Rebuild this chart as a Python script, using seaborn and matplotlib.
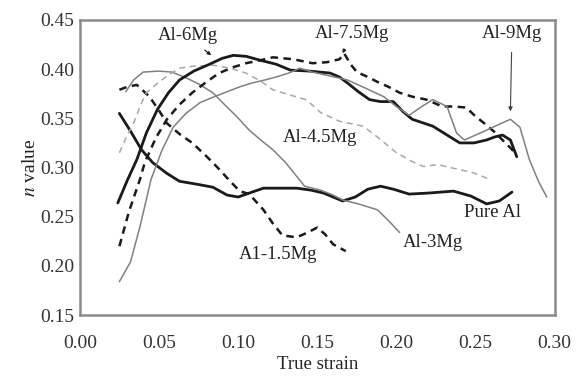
import matplotlib
matplotlib.use("Agg")
from matplotlib import pyplot as plt
import seaborn as sns
import pandas as pd

# strain / n value curves
pure_x = [0.025, 0.032, 0.039, 0.046, 0.055, 0.063, 0.074, 0.084, 0.093, 0.100, 0.107, 0.116, 0.128,
          0.137, 0.146, 0.154, 0.160, 0.166, 0.174, 0.182, 0.190, 0.198, 0.208, 0.220, 0.236, 0.247,
          0.257, 0.265, 0.273]
pure_y = [0.355, 0.337, 0.318, 0.305, 0.294, 0.286, 0.283, 0.280, 0.272, 0.270, 0.274, 0.279, 0.279,
          0.279, 0.277, 0.274, 0.270, 0.266, 0.270, 0.278, 0.281, 0.278, 0.273, 0.274, 0.276, 0.271,
          0.263, 0.266, 0.275]

mg15_x = [0.025, 0.030, 0.036, 0.044, 0.050, 0.055, 0.063, 0.071, 0.079, 0.087, 0.095, 0.101, 0.107,
          0.116, 0.122, 0.128, 0.137, 0.144, 0.150, 0.155, 0.160, 0.168]
mg15_y = [0.379, 0.382, 0.384, 0.372, 0.358, 0.345, 0.334, 0.325, 0.313, 0.300, 0.286, 0.276, 0.273,
          0.257, 0.243, 0.231, 0.229, 0.234, 0.239, 0.232, 0.222, 0.215]

mg3_x = [0.029, 0.034, 0.040, 0.050, 0.058, 0.066, 0.075, 0.084, 0.092, 0.099, 0.107, 0.115, 0.122,
         0.130, 0.137, 0.142, 0.152, 0.160, 0.166, 0.176, 0.188, 0.195, 0.202]
mg3_y = [0.377, 0.389, 0.397, 0.398, 0.397, 0.392, 0.385, 0.376, 0.363, 0.352, 0.338, 0.327, 0.318,
         0.305, 0.291, 0.281, 0.277, 0.272, 0.267, 0.263, 0.257, 0.246, 0.234]

mg45_x = [0.025, 0.030, 0.034, 0.038, 0.042, 0.050, 0.057, 0.063, 0.072, 0.084, 0.095, 0.105, 0.114,
          0.122, 0.132, 0.143, 0.152, 0.164, 0.179, 0.188, 0.200, 0.210, 0.217, 0.226, 0.234, 0.248,
          0.259]
mg45_y = [0.315, 0.333, 0.345, 0.362, 0.376, 0.387, 0.395, 0.401, 0.403, 0.404, 0.401, 0.396, 0.388,
          0.379, 0.374, 0.369, 0.356, 0.347, 0.342, 0.331, 0.315, 0.306, 0.301, 0.303, 0.300, 0.295,
          0.288]

mg6_x = [0.024, 0.030, 0.036, 0.042, 0.049, 0.056, 0.063, 0.072, 0.082, 0.090, 0.097, 0.105, 0.114,
         0.124, 0.133, 0.145, 0.158, 0.164, 0.169, 0.176, 0.183, 0.190, 0.198, 0.204, 0.210, 0.223,
         0.232, 0.240, 0.249, 0.257, 0.262, 0.267, 0.272, 0.276]
mg6_y = [0.264, 0.287, 0.308, 0.335, 0.359, 0.376, 0.389, 0.398, 0.405, 0.411, 0.414, 0.413, 0.409,
         0.405, 0.399, 0.398, 0.396, 0.392, 0.386, 0.377, 0.369, 0.367, 0.367, 0.357, 0.349, 0.342,
         0.333, 0.325, 0.325, 0.328, 0.331, 0.333, 0.328, 0.311]

mg75_x = [0.025, 0.031, 0.038, 0.041, 0.048, 0.055, 0.063, 0.071, 0.080, 0.088, 0.097, 0.105, 0.114,
          0.122, 0.135, 0.147, 0.156, 0.164, 0.167, 0.171, 0.175, 0.182, 0.188, 0.195, 0.202, 0.210,
          0.219, 0.229, 0.236, 0.244, 0.250, 0.257, 0.262, 0.267, 0.272, 0.276]
mg75_y = [0.220, 0.255, 0.288, 0.305, 0.330, 0.349, 0.364, 0.376, 0.387, 0.396, 0.402, 0.406, 0.409,
          0.412, 0.410, 0.406, 0.407, 0.410, 0.416, 0.405, 0.397, 0.392, 0.387, 0.382, 0.376, 0.372,
          0.369, 0.362, 0.362, 0.361, 0.352, 0.343, 0.336, 0.328, 0.320, 0.313]

mg9_x = [0.025, 0.032, 0.038, 0.045, 0.052, 0.059, 0.067, 0.076, 0.085, 0.093, 0.101, 0.109, 0.117,
         0.124, 0.132, 0.139, 0.147, 0.158, 0.169, 0.180, 0.192, 0.200, 0.208, 0.216, 0.223, 0.232,
         0.238, 0.243, 0.250, 0.257, 0.265, 0.272, 0.278, 0.284, 0.290, 0.295]
mg9_y = [0.184, 0.204, 0.240, 0.288, 0.318, 0.341, 0.355, 0.366, 0.372, 0.377, 0.382, 0.386, 0.389,
         0.392, 0.396, 0.401, 0.397, 0.393, 0.389, 0.381, 0.372, 0.362, 0.353, 0.362, 0.369, 0.362,
         0.335, 0.328, 0.333, 0.338, 0.344, 0.349, 0.341, 0.308, 0.285, 0.270]

x_ticks = [0.00, 0.05, 0.10, 0.15, 0.20, 0.25, 0.30]
y_ticks = [0.15, 0.20, 0.25, 0.30, 0.35, 0.40, 0.45]

sns.set_style("white")
plt.rcParams['font.family'] = ['Liberation Serif', 'DejaVu Serif']
plt.rcParams['mathtext.fontset'] = 'stix'

fig = plt.figure(figsize=(5.87, 3.76), dpi=100)
ax = fig.add_axes([0.136, 0.162, 0.809, 0.785])

# (x, y, colour, width, dash pattern)
curves = [
    (pure_x, pure_y, '#1a1a1a', 2.0, None),
    (mg15_x, mg15_y, '#1a1a1a', 1.8, (3.0, 2.2)),
    (mg3_x, mg3_y, '#808080', 1.1, None),
    (mg45_x, mg45_y, '#a8a8a8', 1.1, (4.0, 3.0)),
    (mg6_x, mg6_y, '#1a1a1a', 2.0, None),
    (mg75_x, mg75_y, '#1a1a1a', 1.8, (3.0, 2.2)),
    (mg9_x, mg9_y, '#808080', 1.1, None),
]
for xs, ys, col, lw, dash in curves:
    df = pd.DataFrame({'strain': xs, 'n': ys})
    line_kws = dict(color=col, linewidth=lw)
    if dash is not None:
        line_kws['linestyle'] = (0, dash)
    sns.lineplot(data=df, x='strain', y='n', ax=ax, sort=False, **line_kws)

txt = dict(fontsize=13.5, color='#222222', ha='center', va='center')
ax.annotate('Al-6Mg', xy=(0.083, 0.414), xytext=(0.068, 0.434),
            arrowprops=dict(arrowstyle='-|>', color='#222222', lw=0.9,
                            mutation_scale=5, shrinkA=3, shrinkB=0), **txt)
ax.annotate('Al-7.5Mg', xy=(0.166, 0.416), xytext=(0.172, 0.436),
            arrowprops=dict(arrowstyle='-|>', color='#222222', lw=0.9,
                            mutation_scale=5, shrinkA=3, shrinkB=0), **txt)
ax.annotate('Al-9Mg', xy=(0.272, 0.357), xytext=(0.273, 0.436),
            arrowprops=dict(arrowstyle='-|>', color='#444444', lw=0.8,
                            mutation_scale=6, shrinkA=5, shrinkB=0), **txt)
ax.text(0.152, 0.331, 'Al-4.5Mg', **txt)
ax.text(0.261, 0.254, 'Pure Al', **txt)
ax.text(0.223, 0.224, 'Al-3Mg', **txt)
ax.text(0.125, 0.212, 'A1-1.5Mg', **txt)

ax.set_xlim(0.0, 0.30)
ax.set_ylim(0.15, 0.45)
ax.set_xticks(x_ticks)
ax.set_yticks(y_ticks)
ax.set_xticklabels(['%.2f' % v for v in x_ticks])
ax.set_yticklabels(['%.2f' % v for v in y_ticks])
ax.tick_params(length=0, labelsize=14, colors='#333333')
ax.tick_params(axis='x', pad=14)
ax.tick_params(axis='y', pad=4)
ax.set_xlabel('True strain', fontsize=13.5, color='#222222', labelpad=3)
ax.set_ylabel(r'$n$ value', fontsize=14, color='#222222', labelpad=1)
for sp in ax.spines.values():
    sp.set_color('#8a8a8a')
    sp.set_linewidth(1.8)

fig.savefig('out.png', dpi=100)
